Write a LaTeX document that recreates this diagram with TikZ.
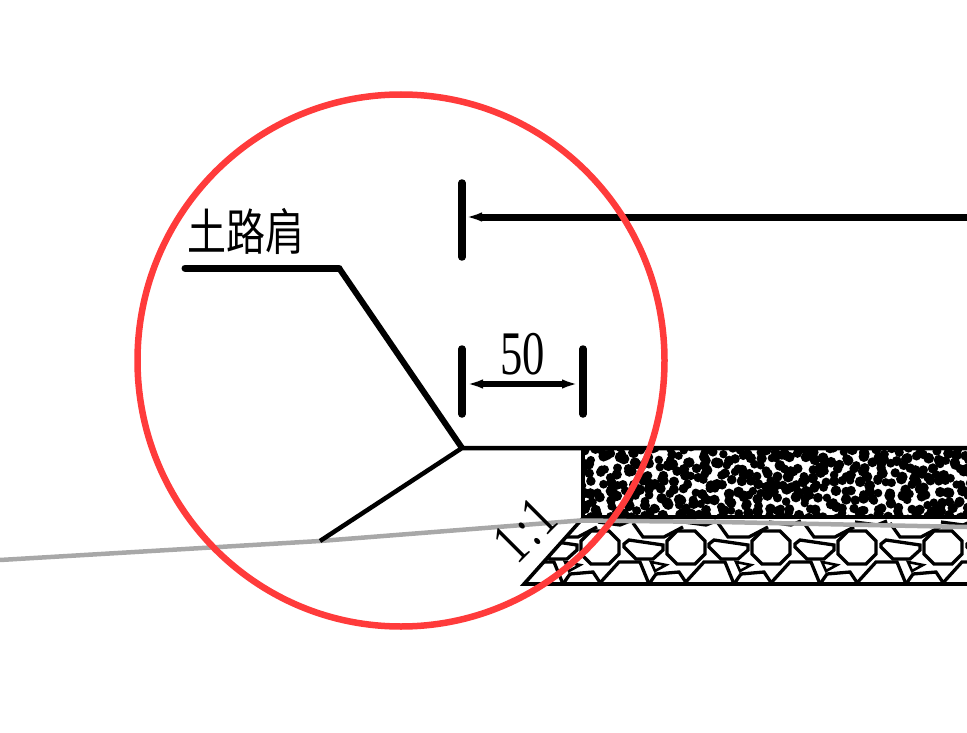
\documentclass[tikz,border=0pt]{standalone}
\usepackage{fontspec}
\usetikzlibrary{arrows.meta}
\newfontfamily\cjkfont{Noto Sans CJK SC}
\setmainfont{Liberation Serif}
\tikzset{
  ink/.style={line width=#1,black},
  tick/.style={line width=7.5pt,line cap=round,black},
  dimline/.style={line width=7pt,black},
  dimtip/.style={-{Latex[length=20pt,width=9pt]}},
  gravel/.style={line width=3.3pt,black,line join=miter},
  ground/.style={line width=4.5pt,color=groundgray},
  lens/.style={line width=6.5pt,color=lensred},
}
\definecolor{groundgray}{HTML}{A8A8A8}
\definecolor{lensred}{HTML}{FF3B3B}
\newcommand{\gravelcell}[1]{%
  \begin{scope}[shift={(#1,547)}]
    \draw[gravel] (-19,-6)--(-9,-16)--(9,-16)--(19,-6)--(19,7)--(9,17)--(-9,17)--(-19,7)--cycle;
    \draw[gravel] (-62,-3)--(-57,-7)--(-23,-2)--(-23,3)--(-33,12)--(-50,12)--(-62,0)--cycle;
    \draw[gravel] (-53,-24)--(-43,-10)--(-22,-10)--(-3,-20);
    \draw[gravel] (-2,-25)--(20,-22)--(30,-26);
    \draw[gravel] (-87,37)--(-67,15)--(-46,15)--(-37,37);
    \draw[gravel] (-37,37)--(-30,27)--(-7,25)--(1,37);
    \draw[gravel,line width=2.6pt] (-35,15)--(-20,18)--(-31,24)--cycle;
  \end{scope}}
\begin{document}
\begin{tikzpicture}[x=1pt,y=-1pt]
\useasboundingbox (0,0) rectangle (967,733);
% named points
\coordinate (shL) at (185,268);
\coordinate (shR) at (339,268);
\coordinate (toe) at (462,448);
\coordinate (foot) at (320,541);
\coordinate (edgeR) at (967,448);
\coordinate (tA) at (462,183);
\coordinate (tB) at (462,257);
\coordinate (tM) at (462,217);
\coordinate (tE) at (967,217);
\coordinate (dA) at (462,349);
\coordinate (dB) at (462,414);
\coordinate (eA) at (583,349);
\coordinate (eB) at (583,414);
\coordinate (dM) at (463,384);
\coordinate (eM) at (582,384);
\coordinate (gBL) at (524,584);
\coordinate (gTL) at (583,518);
\coordinate (gBR) at (967,584);
\coordinate (gTR) at (967,518);
% asphalt texture
\begin{scope}
  \clip (582,449) rectangle (967,518);
  \pgfmathsetseed{271}
  \foreach \gx in {0,...,46}{
    \foreach \gy in {0,...,8}{
      \pgfmathsetmacro{\px}{583+8.4*\gx+9*rnd-4.5}
      \pgfmathsetmacro{\py}{451+8*\gy+8*rnd-4}
      \pgfmathsetmacro{\pr}{4.1+1.5*rnd}
      \fill[black] (\px,\py) circle[radius=\pr pt];
    }
  }
\end{scope}
\draw[ink=4pt] (583,449) -- (583,518);
\draw[ink=4.5pt] (583,517) -- (967,517);
% gravel
\begin{scope}
  \clip (gBL) -- (gTL) -- (gTR) -- (gBR) -- cycle;
  \foreach \c in {600,686,771,857,943,1029}{\gravelcell{\c}}
\end{scope}
\draw[ink=3.6pt] (gTL) -- (gBL) -- (gBR);
% ground line
\draw[ground] (0,560) -- (foot) -- (580,520.5) -- (720,522) -- (967,527);
% road outline
\draw[ink=7pt,line cap=round,line join=round] (shL) -- (shR);
\draw[ink=6pt] (shR) -- (toe);
\draw[ink=4.5pt,line join=round] (foot) -- (toe) -- (edgeR);
% dimensions
\draw[tick] (tA) -- (tB);
\draw[dimline,dimtip] (tE) -- (tM);
\draw[tick] (dA) -- (dB);
\draw[tick] (eA) -- (eB);
\draw[ink=6.5pt,{Latex[length=20pt,width=9pt]}-{Latex[length=20pt,width=9pt]}] (dM) -- (eM);
% labels
\node[inner sep=0pt,xscale=1.0,yscale=1.27] (lblShoulder) at (245.5,231) {\cjkfont\fontsize{39}{39}\selectfont 土路肩};
\node[inner sep=0pt,xscale=.72,yscale=1.0] (lblFifty) at (522.5,354) {\fontsize{62}{62}\selectfont 50};
\node[inner sep=0pt,rotate=45,xscale=.7] (lblSlope) at (525.5,530) {\fontsize{60}{60}\selectfont 1\kern5pt:\kern5pt1};
% lens
\draw[lens] (401,360.5) ellipse[x radius=263.5,y radius=266];
\end{tikzpicture}
\end{document}
